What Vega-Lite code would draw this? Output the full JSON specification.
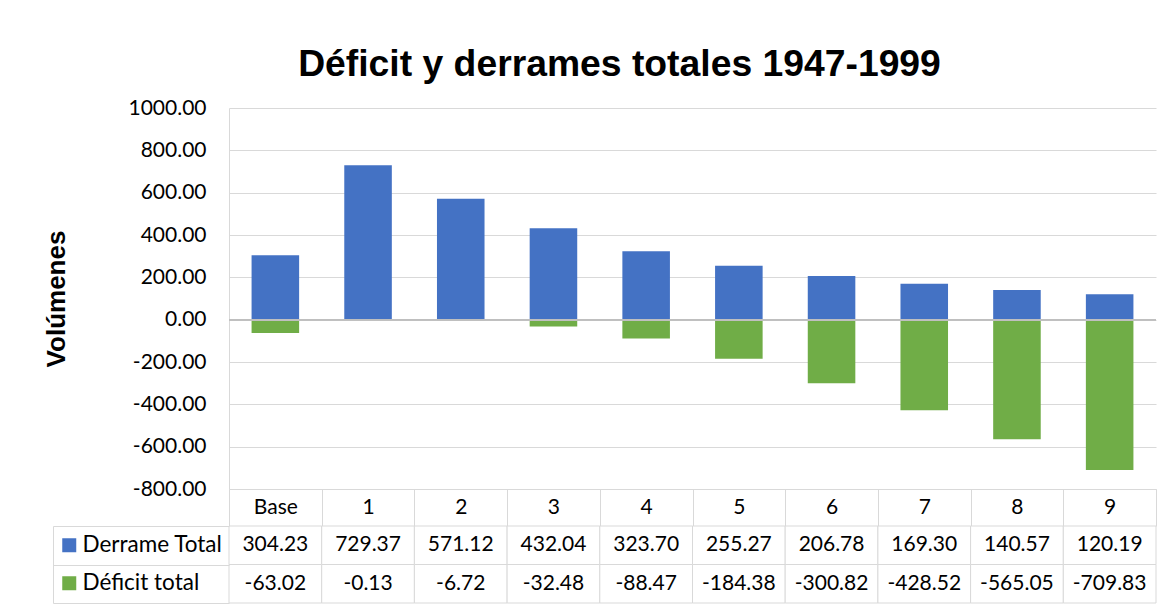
{
  "$schema": "https://vega.github.io/schema/vega-lite/v6.json",
  "width": 927,
  "height": 495,
  "autosize": {"type": "none"},
  "padding": {"left": 229, "top": 108, "right": 18, "bottom": 7},
  "background": "white",
  "title": {
    "text": "Déficit y derrames totales 1947-1999",
    "font": "Liberation Sans",
    "fontSize": 37.3,
    "fontWeight": "bold",
    "color": "#000000",
    "anchor": "middle",
    "dx": -73,
    "offset": 13
  },
  "config": {
    "view": {"stroke": null},
    "font": "Lato",
    "locale": {
      "number": {"decimal": ".", "thousands": ",", "grouping": [3], "currency": ["$", ""], "minus": "-"}
    }
  },
  "data": {
    "values": [
      {"cat": "Base", "Derrame Total": 304.23, "Déficit total": -63.02},
      {"cat": "1", "Derrame Total": 729.37, "Déficit total": -0.13},
      {"cat": "2", "Derrame Total": 571.12, "Déficit total": -6.72},
      {"cat": "3", "Derrame Total": 432.04, "Déficit total": -32.48},
      {"cat": "4", "Derrame Total": 323.70, "Déficit total": -88.47},
      {"cat": "5", "Derrame Total": 255.27, "Déficit total": -184.38},
      {"cat": "6", "Derrame Total": 206.78, "Déficit total": -300.82},
      {"cat": "7", "Derrame Total": 169.30, "Déficit total": -428.52},
      {"cat": "8", "Derrame Total": 140.57, "Déficit total": -565.05},
      {"cat": "9", "Derrame Total": 120.19, "Déficit total": -709.83}
    ]
  },
  "transform": [
    {"fold": ["Derrame Total", "Déficit total"], "as": ["serie", "valor"]}
  ],
  "layer": [
    {
      "layer": [
        {
          "mark": {"type": "bar", "width": {"band": 0.513}},
          "encoding": {
            "x": {
              "field": "cat",
              "type": "nominal",
              "sort": null,
              "scale": {
                "domain": ["Base", "1", "2", "3", "4", "5", "6", "7", "8", "9"],
                "paddingInner": 0,
                "paddingOuter": 0
              },
              "axis": {
                "orient": "bottom",
                "offset": -114,
                "title": null,
                "tickBand": "extent",
                "tickSize": 37,
                "tickColor": "#d9d9d9",
                "domainColor": "#d9d9d9",
                "labelFont": "Lato",
                "labelFontSize": 21,
                "labelColor": "#000000",
                "labelAngle": 0,
                "labelBaseline": "middle",
                "labelPadding": -18.5,
                "grid": false
              }
            },
            "y": {
              "field": "valor",
              "type": "quantitative",
              "stack": null,
              "scale": {"domain": [-800, 1000], "range": [381, 0], "nice": false, "zero": false},
              "axis": {
                "orient": "left",
                "values": [-800, -600, -400, -200, 0, 200, 400, 600, 800, 1000],
                "format": ".2f",
                "title": "Volúmenes",
                "titleFont": "Liberation Sans",
                "titleFontSize": 26,
                "titleFontWeight": "bold",
                "titleColor": "#000000",
                "titleX": -160,
                "titleY": 190.5,
                "labelFont": "Lato",
                "labelFontSize": 21,
                "labelColor": "#000000",
                "labelPadding": 23,
                "ticks": false,
                "domainColor": "#d9d9d9",
                "grid": true,
                "gridColor": "#d9d9d9"
              }
            },
            "color": {
              "field": "serie",
              "type": "nominal",
              "scale": {"domain": ["Derrame Total", "Déficit total"], "range": ["#4472C4", "#70AD47"]},
              "legend": {
                "orient": "none",
                "legendX": -171,
                "legendY": 426,
                "title": null,
                "symbolType": "square",
                "symbolSize": 196,
                "symbolStrokeWidth": 0,
                "labelFont": "Lato",
                "labelFontSize": 22.5,
                "labelColor": "#000000",
                "labelOffset": 2,
                "rowPadding": 15,
                "padding": 0
              }
            }
          }
        },
        {
          "mark": {"type": "rule", "color": "#bfbfbf", "strokeWidth": 1.5},
          "encoding": {"y": {"datum": 0, "type": "quantitative"}}
        }
      ]
    },
    {
      "layer": [
        {
          "mark": {"type": "rect", "fill": "white", "stroke": "#d9d9d9", "strokeWidth": 1},
          "encoding": {
            "x": {"field": "cat", "type": "nominal", "sort": null},
            "y": {
              "field": "serie",
              "type": "nominal",
              "scale": {
                "domain": ["Derrame Total", "Déficit total"],
                "range": [418, 495],
                "paddingInner": 0,
                "paddingOuter": 0
              },
              "axis": {
                "orient": "left",
                "offset": 176,
                "title": null,
                "labels": false,
                "tickBand": "extent",
                "tickSize": -176,
                "tickColor": "#d9d9d9",
                "domainColor": "#d9d9d9",
                "grid": false
              }
            }
          }
        },
        {
          "mark": {"type": "text", "font": "Lato", "fontSize": 21, "color": "#000000"},
          "encoding": {
            "x": {"field": "cat", "type": "nominal", "sort": null},
            "y": {"field": "serie", "type": "nominal"},
            "text": {"field": "valor", "type": "quantitative", "format": ".2f"}
          }
        }
      ]
    }
  ],
  "resolve": {"scale": {"y": "independent"}, "axis": {"y": "independent"}}
}
